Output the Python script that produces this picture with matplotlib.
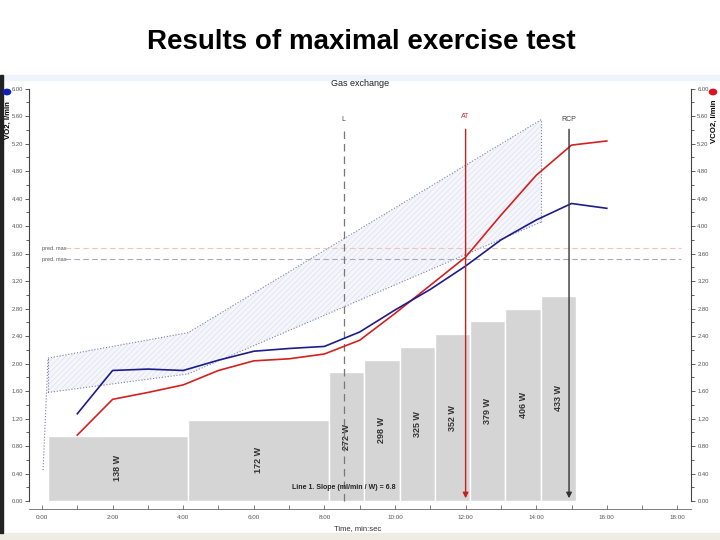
import numpy as np
import matplotlib.pyplot as plt
from matplotlib.patches import Rectangle, Circle

plt.rcParams['font.family'] = ['Liberation Sans', 'DejaVu Sans']
plt.rcParams['hatch.linewidth'] = 0.35

# gas exchange, one point per minute (l/min)
minutes = [1, 2, 3, 4, 5, 6, 7, 8, 9, 10, 11, 12, 13, 14, 15, 16]
vo2 = [1.27, 1.90, 1.92, 1.90, 2.05, 2.18, 2.22, 2.25, 2.46, 2.78, 3.08, 3.42, 3.80, 4.09, 4.33, 4.26]
vco2 = [0.96, 1.48, 1.58, 1.69, 1.90, 2.04, 2.07, 2.14, 2.34, 2.73, 3.14, 3.55, 4.16, 4.74, 5.18, 5.24]

# predicted VO2 range (hatched band)
band_t = [0.17, 4.14, 14.14]
band_hi = [2.08, 2.45, 5.55]
band_lo = [1.58, 1.85, 4.06]
lead_t = [0.03, 0.17]
lead_v = [0.45, 2.06]

# work rate stages
stage_start = [0.17, 4.13, 8.13, 9.13, 10.13, 11.13, 12.13, 13.13, 14.13]
stage_end = [4.13, 8.13, 9.13, 10.13, 11.13, 12.13, 13.13, 14.13, 15.13]
watts = [138, 172, 272, 298, 325, 352, 379, 406, 433]

pred_max_vco2 = 3.68
pred_max_vo2 = 3.52
t_L, t_AT, t_RCP = 8.55, 12.0, 14.93
marker_top = 5.45
slope_text = "Line 1. Slope (ml/min / W) = 6.8"

fig = plt.figure(figsize=(7.2, 5.4), dpi=100)
fig.patch.set_facecolor('white')

# slide frame bits
fig.patches.append(Rectangle((0, 1 - 80 / 540), 1, 5 / 540, transform=fig.transFigure,
                             color='#eef4fa', zorder=0))
fig.patches.append(Rectangle((0, 0), 1, 7 / 540, transform=fig.transFigure,
                             color='#efece6', zorder=0))
fig.patches.append(Rectangle((0, 7 / 540), 3 / 720, 458 / 540, transform=fig.transFigure,
                             color='#222222', zorder=1))

fig.text(0.502, 0.922, "Results of maximal exercise test", ha='center', va='center',
         fontsize=20, fontweight='bold')

ax = fig.add_axes([29 / 720, 1 - 509 / 540, (691 - 29) / 720, (509 - 86) / 540])
ax_w = ax.twinx()
ax.set_zorder(ax_w.get_zorder() + 1)
ax.patch.set_visible(False)

x0, x1 = -0.368, 18.385
y0, y1 = -0.116, 6.04
ax.set_xlim(x0, x1)
ax.set_ylim(y0, y1)
w_scale = 145.0
ax_w.set_ylim(y0 * w_scale, y1 * w_scale)
ax_w.axis('off')

# work rate bars
widths = np.array(stage_end) - np.array(stage_start)
ax_w.bar(stage_start, watts, width=widths, align='edge', color='#d5d5d5',
         edgecolor='white', linewidth=1.0)
for s, w, p in zip(stage_start, widths, watts):
    ax_w.text(s + w / 2, p / 2, f"{p} W", rotation=90, ha='center', va='center',
              fontsize=6.5, fontweight='bold', color='#333333')

# predicted band
ax.fill_between(band_t, band_lo, band_hi, facecolor='#f5f6fb', edgecolor='#d6d8e8',
                hatch='//////', linewidth=0)
band_kw = dict(color='#7a80aa', lw=0.8, ls=':')
ax.plot(band_t, band_hi, **band_kw)
ax.plot(band_t, band_lo, **band_kw)
ax.plot([band_t[0]] * 2, [band_lo[0], band_hi[0]], **band_kw)
ax.plot([band_t[-1]] * 2, [band_lo[-1], band_hi[-1]], **band_kw)
ax.plot(lead_t, lead_v, **band_kw)

# predicted max lines
ax.plot([0.65, 18.1], [pred_max_vco2] * 2, '--', color='#f4c3b4', lw=0.8, dashes=(5, 3))
ax.plot([0.65, 18.1], [pred_max_vo2] * 2, '--', color='#aaa8bf', lw=0.8, dashes=(5, 3))
ax.text(0.0, pred_max_vco2, "pred. max", fontsize=4, color='#555555', va='center')
ax.text(0.0, pred_max_vo2, "pred. max", fontsize=4, color='#555555', va='center')

# threshold markers
ax.plot([t_L, t_L], [0, marker_top], '--', color='#777777', lw=0.9, dashes=(6, 4))
ax.annotate('', xy=(t_AT, 0), xytext=(t_AT, marker_top),
            arrowprops=dict(arrowstyle='-|>', color='#c42020', lw=1.0, mutation_scale=8))
ax.annotate('', xy=(t_RCP, 0), xytext=(t_RCP, marker_top),
            arrowprops=dict(arrowstyle='-|>', color='#333333', lw=1.0, mutation_scale=8))
ax.text(t_L, 5.55, "L", fontsize=5, color='#444444', ha='center', va='center')
ax.text(t_AT, 5.6, "AT", fontsize=5, color='#d03030', ha='center', va='center')
ax.text(t_RCP, 5.55, "RCP", fontsize=5, color='#444444', ha='center', va='center')

# VO2 and VCO2
ax.plot(minutes, vco2, color='#d42020', lw=1.2)
ax.plot(minutes, vo2, color='#1c1c8c', lw=1.2)

ax.text(t_L, 0.19, slope_text, fontsize=5, fontweight='bold', color='#222222',
        ha='center', va='center')

# axes styling
ax.spines['top'].set_visible(False)
for side in ['left', 'right']:
    ax.spines[side].set_bounds(0, 6)
    ax.spines[side].set_color('#444444')
    ax.spines[side].set_linewidth(0.8)
ax.spines['bottom'].set_color('#666666')
ax.spines['bottom'].set_linewidth(0.6)

ax.set_yticks(np.arange(0, 6.01, 0.4))
ax.set_yticks(np.arange(0, 6.01, 0.2), minor=True)
ax.set_yticklabels([f"{v:.2f}" for v in np.arange(0, 6.01, 0.4)])
ax.set_xticks(np.arange(0, 19, 2))
ax.set_xticks(np.arange(0, 19, 1), minor=True)
ax.set_xticklabels([f"{m}:00" for m in range(0, 19, 2)])
ax.tick_params(axis='y', which='both', left=True, right=True, labelleft=True,
               labelright=True, labelsize=4.2, labelcolor='#555555', color='#444444',
               length=3, width=0.6, pad=1.5)
ax.tick_params(axis='y', which='minor', length=2)
ax.tick_params(axis='x', which='both', direction='in', labelsize=4.5,
               labelcolor='#555555', color='#666666', length=3, width=0.6, pad=4)

fig.text(358 / 720, 1 - 529 / 540, "Time, min:sec", fontsize=5.5, ha='center',
         va='center', color='#333333')
fig.text(360 / 720, 1 - 84 / 540, "Gas exchange", fontsize=6.5, ha='center',
         va='center', color='#222222')

fig.text(8.5 / 720, 1 - 120 / 540, "VO2, l/min", rotation=90, fontsize=5.6,
         fontweight='bold', ha='center', va='center')
fig.text(714 / 720, 1 - 121 / 540, "VCO2, l/min", rotation=90, fontsize=5.6,
         fontweight='bold', ha='center', va='center')
fig.patches.append(Circle((7 / 720, 1 - 92 / 540), 0.005, transform=fig.transFigure,
                          color='#1020c0'))
fig.patches.append(Circle((713 / 720, 1 - 92 / 540), 0.005, transform=fig.transFigure,
                          color='#e01020'))

fig.savefig("out.png", dpi=100)
